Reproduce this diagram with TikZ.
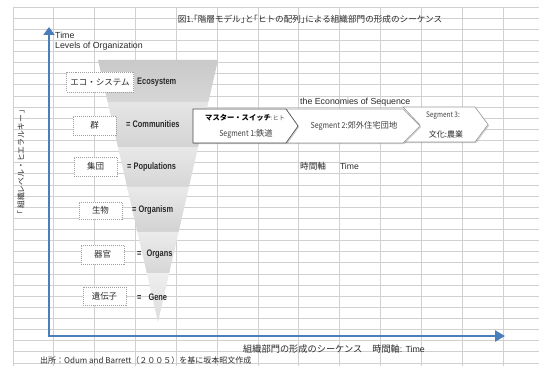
\documentclass[tikz,border=0pt]{standalone}
\usepackage{fontspec}
\setmainfont{Noto Sans CJK JP}
\newfontfamily\latf{Liberation Sans}
\newfontfamily\lblf[FakeStretch=0.78]{Liberation Sans}
\newfontfamily\condf[FakeStretch=0.85]{Noto Sans CJK JP}
\usetikzlibrary{arrows.meta,calc,shadows}
\definecolor{gridc}{HTML}{D0D0D0}
\definecolor{axisblue}{HTML}{4A7EBB}
\definecolor{txt}{HTML}{2B2B2B}
\definecolor{segline}{HTML}{9A9A9A}
\tikzset{
  gridline/.style={draw=gridc, line width=0.9pt},
  axisline/.style={draw=axisblue, line width=2.4pt, line join=miter,
    arrows={Triangle[length=8pt,width=11pt]-Triangle[length=10pt,width=11pt]}},
  jbox/.style={draw=gray!75, dash pattern=on 1pt off 1pt, line width=0.6pt, fill=white,
    minimum width=43pt, minimum height=19pt, inner sep=0pt,
    font=\fontsize{8.5}{9}\selectfont, text=txt},
  enlbl/.style={anchor=west, inner sep=0pt, font=\lblf\bfseries\fontsize{9.5}{10}\selectfont, text=txt},
  plain/.style={inner sep=0pt, text=txt},
  segshape/.style={fill=white, draw=segline, line width=0.6pt, line join=miter,
    drop shadow={shadow xshift=1.2pt, shadow yshift=-1.2pt, opacity=0.35}},
}
\begin{document}
\begin{tikzpicture}[x=1pt,y=-1pt]
\useasboundingbox (0,0) rectangle (539,366);
\fill[white] (0,0) rectangle (539,366);
% grid
\foreach \i in {0,...,12} \draw[gridline] ({13+40.83*\i},7) -- ({13+40.83*\i},366);
\foreach \j in {0,...,32} \draw[gridline] (13,{7+11.125*\j}) -- (539,{7+11.125*\j});

% title
\node[plain, font=\fontsize{8.6}{10}\selectfont] (title) at (310,19) {図1.｢階層モデル｣と｢ヒトの配列｣による組織部門の形成のシーケンス};

% axes
\coordinate (origin) at (49,336);
\coordinate (ytop) at (49,27);
\coordinate (xend) at (505,336);
\draw[axisline] (ytop) -- (origin) -- (xend);

\node[plain, anchor=west, font=\latf\fontsize{8.8}{10}\selectfont] (timey) at (55,35) {Time};
\node[plain, anchor=west, font=\latf\fontsize{8.8}{10}\selectfont] (levels) at (55,46) {Levels of Organization};
\node[plain, rotate=90, font=\fontsize{7.8}{9}\selectfont] (hier) at (21,162) {｢ 組織レベル・ヒエラルキー ｣};

% funnel
\coordinate (FA) at (98,60);
\coordinate (FB) at (218,60);
\coordinate (FT) at (158,322);
\foreach \fa/\fb/\ct/\cb in {0/0.1603/gray!42/gray!32, 0.1603/0.3321/gray!20/gray!34, 0.3321/0.4847/gray!18/gray!32, 0.4847/0.6565/gray!17/gray!35, 0.6565/0.8130/gray!15/gray!32}
  \shade[top color=\ct, bottom color=\cb] ($(FA)!\fa!(FT)$) -- ($(FB)!\fa!(FT)$) -- ($(FB)!\fb!(FT)$) -- ($(FA)!\fb!(FT)$) -- cycle;
\shade[top color=gray!13, bottom color=gray!27] ($(FA)!0.8130!(FT)$) -- ($(FB)!0.8130!(FT)$) -- (FT) -- cycle;

% level boxes
\node[jbox, minimum width=67pt, minimum height=20pt] (eco) at (100,82) {エコ・システム};
\node[jbox] (gun) at (94.5,125.5) {群};
\node[jbox] (shudan) at (95.5,166.5) {集団};
\node[jbox, minimum height=17pt] (seibutsu) at (100.5,210.5) {生物};
\node[jbox] (kikan) at (102.5,254.5) {器官};
\node[jbox, minimum height=18pt] (idenshi) at (104.5,296) {遺伝子};

\node[enlbl] (ecoL) at (137,82) {Ecosystem};
\node[enlbl] (comL) at (126,124) {= Communities};
\node[enlbl] (popL) at (127,167) {= Populations};
\node[enlbl] (orgL) at (132,210) {= Organism};
\node[enlbl] (orgsL) at (137,254) {=\hspace{5pt}Organs};
\node[enlbl] (geneL) at (137,297) {=\hspace{7pt}Gene};

% segments
\path[segshape] (403,107) -- (475,107) -- (488,124.5) -- (475,142) -- (403,142) -- (420,125) -- cycle;
\path[segshape] (286,109) -- (403,109) -- (420,126) -- (403,143) -- (286,143) -- (298,126) -- cycle;
\path[segshape, draw=gray!60!black] (193,109) -- (286,109) -- (298,126) -- (286,143) -- (193,143) -- cycle;

\node[plain, anchor=west, font=\bfseries\fontsize{7.3}{8}\selectfont, text=black] (master) at (205,118)
  {マスター・スイッチ{\mdseries\fontsize{6.2}{7}\selectfont\color{txt!80}:ヒト}};
\node[plain, font=\fontsize{8.3}{9}\selectfont, text=txt!90] (seg1) at (246,134) {{\condf Segment 1:}鉄道};
\node[plain, font=\fontsize{8.3}{9}\selectfont, text=txt!90] (seg2) at (354,126) {{\condf Segment 2:}郊外住宅団地};
\node[plain, font=\condf\fontsize{7.6}{9}\selectfont, text=txt!90] (seg3a) at (443,116) {Segment 3:};
\node[plain, font=\fontsize{8}{9}\selectfont, text=txt] (seg3b) at (446,134) {文化:農業};

\node[plain, anchor=west, font=\latf\fontsize{8.8}{10}\selectfont] (econ) at (300,102) {the Economies of Sequence};
\node[plain, anchor=west, font=\fontsize{8.6}{10}\selectfont] (jikan) at (300,166) {時間軸\hspace{14pt}{\latf Time}};

% bottom texts
\node[plain, anchor=west, font=\fontsize{9.2}{10}\selectfont] (xcap) at (243,349) {組織部門の形成のシーケンス\hspace{10pt}時間軸{\latf\fontsize{8.8}{10}\selectfont: Time}};
\node[plain, anchor=west, font=\fontsize{8}{9}\selectfont] (source) at (40,360.5) {出所：Odum and Barrett（２００５）を基に坂本昭文作成};
\end{tikzpicture}
\end{document}
